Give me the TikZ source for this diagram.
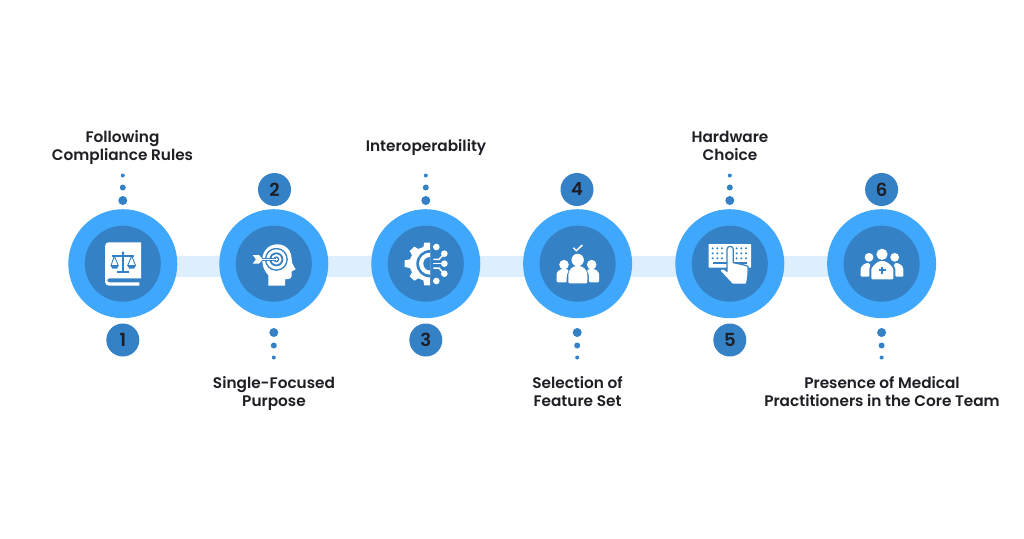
\documentclass[tikz,border=0pt]{standalone}
\usepackage{fontspec}
\setmainfont{Poppins}[UprightFont=* SemiBold]
\usetikzlibrary{backgrounds}
\definecolor{outerblue}{HTML}{3FA7FC}
\definecolor{innerblue}{HTML}{3481C5}
\definecolor{bandblue}{HTML}{DDEFFF}
\definecolor{ink}{HTML}{1E1E24}
\tikzset{
  outerdisc/.style={circle,fill=outerblue,draw=none,minimum size=109pt,inner sep=0pt},
  innerdisc/.style={circle,fill=innerblue,draw=none,minimum size=76pt,inner sep=0pt},
  numdisc/.style={circle,fill=innerblue,draw=none,minimum size=33pt,inner sep=0pt,font=\fontsize{18}{20}\selectfont,text=ink},
  lab/.style={align=center,font=\fontsize{15.3}{18}\selectfont,text=ink,inner sep=0pt},
  dotbig/.style={circle,fill=innerblue,minimum size=9pt,inner sep=0pt},
  dotmid/.style={circle,fill=innerblue,minimum size=6pt,inner sep=0pt},
  dotsmall/.style={circle,fill=innerblue,minimum size=4pt,inner sep=0pt},
  band/.style={draw=bandblue,line width=21pt},
  zoomA/.style={shift={(60,200)},x=0.33333pt,y=-0.33333pt},
  zoomB/.style={shift={(365,200)},x=0.33333pt,y=-0.33333pt},
  zoomC/.style={shift={(665,200)},x=0.33333pt,y=-0.33333pt},
}
\begin{document}
\begin{tikzpicture}[x=1pt,y=-1pt]
\useasboundingbox (0,0) rectangle (1024,538);
% discs
\foreach \n/\cx in {1/122.8,2/273.8,3/425.8,4/577.6,5/729.8,6/881.6}{
  \node[outerdisc] (o\n) at (\cx,263.7) {};
  \node[innerdisc] (i\n) at (\cx,263.7) {};
}
\begin{pgfonlayer}{background}
\fill[white] (0,0) rectangle (1024,538);
\draw[band] ([yshift=-2.4pt]o1.center) -- ([yshift=-2.4pt]o2.center);
\draw[band] ([yshift=-2.4pt]o2.center) -- ([yshift=-2.4pt]o3.center);
\draw[band] ([yshift=-2.4pt]o3.center) -- ([yshift=-2.4pt]o4.center);
\draw[band] ([yshift=-2.4pt]o4.center) -- ([yshift=-2.4pt]o5.center);
\draw[band] ([yshift=-2.4pt]o5.center) -- ([yshift=-2.4pt]o6.center);
\end{pgfonlayer}
% numbers
\node[numdisc] (n1) at (122.8,340) {1};
\node[numdisc] (n2) at (274.5,189.5) {2};
\node[numdisc] (n3) at (425.8,340) {3};
\node[numdisc] (n4) at (577,189.5) {4};
\node[numdisc] (n5) at (729.8,340) {5};
\node[numdisc] (n6) at (881.6,189.5) {6};
% dots above
\foreach \n/\cx in {1/122.8,3/425.8,5/729.8}{
  \node[dotsmall] (ds\n) at (\cx,175.5) {};
  \node[dotmid] (dm\n) at (\cx,187.5) {};
  \node[dotbig] (db\n) at (\cx,200.5) {};
}
% dots below
\foreach \n/\cx in {2/273.8,4/577.2,6/881.6}{
  \node[dotbig] (db\n) at (\cx,332.5) {};
  \node[dotmid] (dm\n) at (\cx,345.5) {};
  \node[dotsmall] (ds\n) at (\cx,357.5) {};
}
% labels
\node[lab] (l1) at (122.5,148) {Following\\Compliance Rules};
\node[lab] (l2) at (274,394) {Single-Focused\\Purpose};
\node[lab] (l3) at (426,148) {Interoperability};
\node[lab] (l4) at (577.5,392) {Selection of\\Feature Set};
\node[lab] (l5) at (730,146) {Hardware\\Choice};
\node[lab] (l6) at (882,392) {Presence of Medical\\Practitioners in the Core Team};
% icon 1: book and scales
\begin{scope}[zoomA]
\fill[white] (135,139) .. controls (135,131) and (139,127) .. (146,127) -- (243,127) -- (243,235) -- (148,235)
  .. controls (140,235) and (140,247) .. (148,247) -- (238,247) -- (238,257) -- (147,257)
  .. controls (140,257) and (135,252) .. (135,245) -- cycle;
\begin{scope}[innerblue]
\fill (186.5,155) rectangle (191.5,212);
\fill (189,158) circle (1.4pt);
\fill (172,212) rectangle (206,218);
\fill (155,164) rectangle (223,170);
\draw[line width=0.9pt] (153,197) -- (163,168) -- (175,197);
\draw[line width=0.9pt] (203,197) -- (215,168) -- (227,197);
\fill (151,195) -- (177,195) -- (171,206) -- (157,206) -- cycle;
\fill (201,195) -- (229,195) -- (222,206) -- (208,206) -- cycle;
\end{scope}
\end{scope}
% icon 2: head and target
\begin{scope}[zoomA]
\fill[white] (625,257) -- (625,226) .. controls (612,212) and (606,195) .. (607,178)
  .. controls (608,150) and (628,133) .. (652,133)
  .. controls (678,133) and (695,152) .. (695,178)
  .. controls (695,186) and (697,192) .. (701,198) -- (707,208) -- (695,214) -- (695,228)
  .. controls (695,234) and (690,237) .. (684,237) -- (675,237) -- (675,257) -- cycle;
\fill[innerblue] (649,178) circle (11.5pt);
\fill[white] (649,178) circle (10pt);
\fill[innerblue] (649,178) circle (7pt);
\fill[white] (649,178) circle (5.2pt);
\fill[innerblue] (649,178) circle (3pt);
\fill[white] (649,178) circle (1.6pt);
\draw[innerblue,line width=3.2pt] (598,178) -- (647,178);
\draw[white,line width=1.2pt] (600,178) -- (649,178);
\fill[white] (578,165) -- (597,165) -- (608,178) -- (597,191) -- (578,191) -- (588,178) -- cycle;
\end{scope}
% icon 3: half gear and circuit
\begin{scope}[zoomB]
\fill[white] (195,128) -- (178,128) -- (175,141) -- (160,147) -- (148,140) -- (134,153) -- (141,165)
  -- (135,178) -- (119,181) -- (119,201) -- (135,204) -- (141,217) -- (134,229) -- (148,242) -- (160,235)
  -- (175,241) -- (178,256) -- (195,256) -- cycle;
\fill[innerblue] (195,150) arc (90:270:13.7pt) -- cycle;
\fill[white] (195,158) arc (90:270:11pt) -- cycle;
\fill[innerblue] (195,171) arc (90:270:6.7pt) -- cycle;
\begin{scope}[white,line width=1.5pt]
\draw (203,141) -- (215,141);
\draw (205,178) -- (222,178) -- (235,164);
\draw (205,191) -- (236,191);
\draw (205,204) -- (222,204) -- (235,219);
\draw (203,243) -- (215,243);
\end{scope}
\fill[white] (214,141) circle (3.3pt);
\fill[white] (238,161) circle (3.3pt);
\fill[white] (238,191) circle (3.3pt);
\fill[white] (238,221) circle (3.3pt);
\fill[white] (214,243) circle (3.3pt);
\end{scope}
% icon 4: three people and check
\begin{scope}[zoomB]
\draw[white,line width=1.5pt,line join=miter] (625,143) -- (634,152) -- (652,135);
\fill[white] (638,180) circle (6.2pt);
\fill[white,rounded corners=1pt] (610,250) -- (610,228) .. controls (610,210) and (622,198) .. (638,198)
  .. controls (655,198) and (667,210) .. (667,228) -- (667,250) -- cycle;
\fill[white] (597,194) circle (4.8pt);
\fill[white,rounded corners=1pt] (575,247) -- (575,226) .. controls (575,214) and (586,207) .. (597,207)
  .. controls (603,207) and (609,209) .. (612,211) .. controls (605,219) and (605,228) .. (605,247) -- cycle;
\fill[white] (680,194) circle (4.8pt);
\fill[white,rounded corners=1pt] (702,247) -- (702,226) .. controls (702,214) and (691,207) .. (680,207)
  .. controls (674,207) and (668,209) .. (665,211) .. controls (672,219) and (672,228) .. (672,247) -- cycle;
\end{scope}
% icon 5: keyboard and hand
\begin{scope}[zoomC]
\fill[white,rounded corners=0.5pt] (131,132) rectangle (258,203);
\foreach \yy in {145,160,175}{
  \foreach \xx in {143,157,171,215,229,243}{
    \fill[innerblue] (\xx,\yy) circle (1.1pt);
  }
}
\fill[innerblue] (145,186) rectangle (245,191);
\fill[white,draw=innerblue,line width=1.2pt,line join=round]
  (186,148) .. controls (186,136) and (205,136) .. (205,148) -- (205,188)
  .. controls (222,192) and (238,194) .. (249,199)
  .. controls (250,215) and (249,235) .. (244,253) -- (202,253)
  .. controls (190,240) and (176,225) .. (164,212)
  .. controls (168,204) and (178,205) .. (186,214) -- cycle;
\end{scope}
% icon 6: medical team
\begin{scope}[zoomC]
\fill[white] (651,163) circle (5.6pt);
\fill[white,rounded corners=1pt] (619,238) -- (619,206) .. controls (628,193) and (640,183) .. (651,183)
  .. controls (664,183) and (676,193) .. (685,206) -- (685,238) -- cycle;
\fill[innerblue] (648.5,200) rectangle (654,222);
\fill[innerblue] (640.5,208) rectangle (662,214);
\fill[white] (612,172) circle (4.4pt);
\fill[white,rounded corners=1pt] (587,230) -- (587,208) .. controls (589,196) and (600,189) .. (612,189)
  -- (617,197) -- (613,203) -- (613,230) -- cycle;
\fill[white] (689,172) circle (4.4pt);
\fill[white,rounded corners=1pt] (715,230) -- (715,208) .. controls (713,196) and (702,189) .. (690,189)
  -- (686,197) -- (691,203) -- (691,230) -- cycle;
\end{scope}
\end{tikzpicture}
\end{document}
